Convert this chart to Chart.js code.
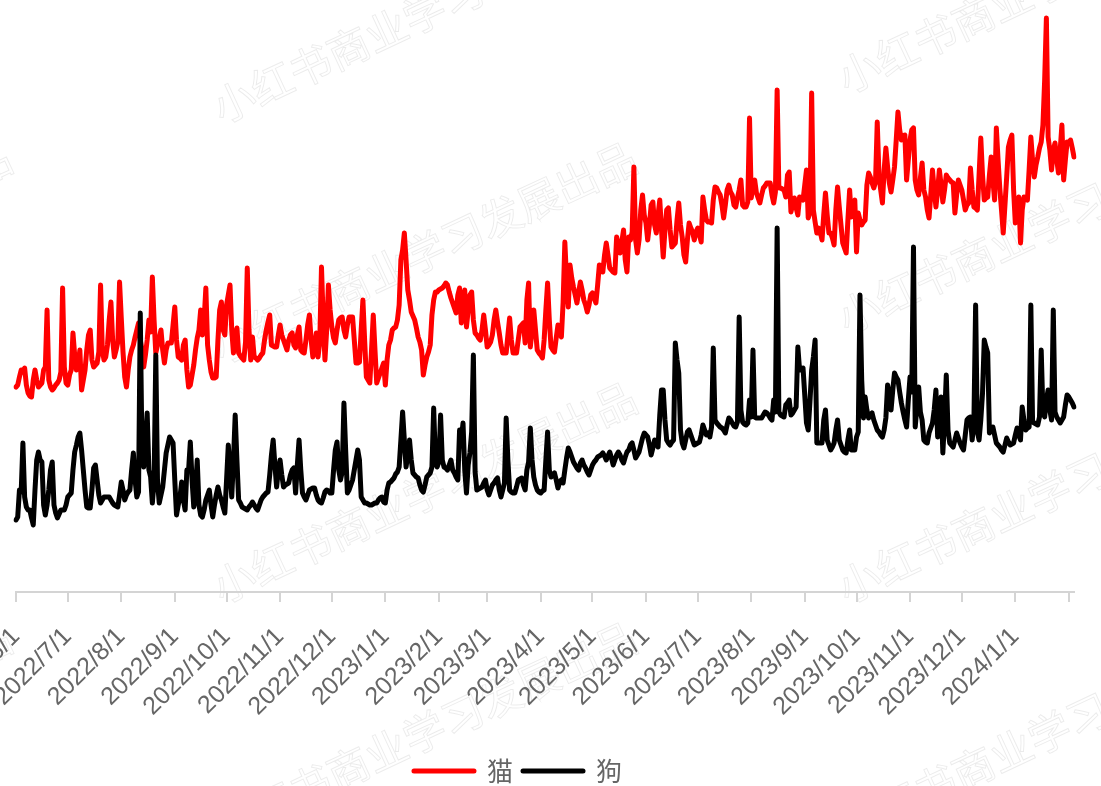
<!DOCTYPE html>
<html lang="zh">
<head>
<meta charset="utf-8">
<title>猫 / 狗</title>
<script src="https://cdn.jsdelivr.net/npm/chart.js@4.4.1/dist/chart.umd.min.js"></script>
<style>
  html, body { margin: 0; padding: 0; background: #fff; }
  #wrap { width: 1101px; height: 786px; }
</style>
</head>
<body>
<div id="wrap"><canvas id="grafico" width="1101" height="786"></canvas></div>
<script>
// daily values, starting 2022/6/1
const seriesNames = ['猫', '狗'];
const startDay = [2022, 6, 1];

const cat = [
  205,207,215,222,220,224,207,199,196,195,
  212,222,212,205,207,209,222,225,282,212,
  205,202,204,207,209,212,220,304,225,209,
  207,217,222,259,237,222,227,242,202,212,
  222,242,257,262,232,225,227,229,240,307,
  242,232,235,247,272,290,252,235,242,250,
  310,274,240,215,205,222,235,242,247,255,
  262,269,252,242,225,237,252,272,260,315,
  272,239,247,254,262,242,229,242,249,249,
  249,267,285,252,235,234,232,247,252,222,
  205,207,217,227,242,254,262,282,257,272,
  304,247,232,220,214,214,215,252,282,290,
  262,257,287,297,307,262,239,257,264,239,
  236,234,232,250,324,262,232,255,235,234,
  232,234,237,239,252,262,270,277,247,246,
  245,245,257,267,257,252,247,242,252,257,
  259,247,244,257,265,242,240,239,252,267,
  277,252,235,247,259,235,250,325,272,232,
  262,307,282,265,254,249,262,272,274,275,
  262,255,267,275,275,275,252,229,229,230,
  262,292,252,215,212,209,242,277,242,209,
  214,219,224,229,207,232,247,252,262,264,
  265,272,287,332,342,359,332,302,292,280,
  276,272,264,255,250,242,217,227,235,240,
  247,277,292,300,300,302,303,304,306,309,
  307,300,294,289,284,279,297,304,269,287,
  302,265,282,297,300,272,259,257,254,252,
  262,277,262,245,247,250,257,272,282,270,
  259,247,239,239,239,257,274,252,239,239,
  239,252,265,267,269,249,292,309,245,262,
  282,262,242,239,237,234,252,282,309,272,
  245,242,240,254,267,259,255,290,350,312,
  285,327,314,305,297,289,300,310,302,292,
  287,280,287,297,299,294,289,307,327,324,
  320,337,349,337,324,322,320,319,355,347,
  339,350,362,332,320,355,352,360,425,352,
  339,352,382,397,377,369,352,367,387,390,
  367,359,377,392,362,335,362,382,384,362,
  345,347,349,372,389,367,355,337,330,352,
  369,364,360,352,360,364,357,350,395,382,
  372,370,370,369,392,405,404,400,397,387,
  374,387,402,407,400,397,387,385,394,402,
  412,387,385,385,390,474,394,407,412,399,
  394,389,397,404,406,409,409,409,397,389,
  400,502,404,404,403,402,395,417,420,380,
  387,394,384,377,395,394,392,407,422,374,
  380,499,382,370,359,364,360,352,377,399,
  377,359,359,354,347,382,405,385,367,349,
  344,339,372,402,375,387,392,340,379,372,
  367,370,372,407,419,415,409,404,410,470,
  417,402,389,422,444,425,409,400,412,425,
  452,480,462,452,456,457,412,432,452,462,
  464,412,402,397,414,429,402,395,382,374,
  397,422,402,385,402,422,407,390,402,417,
  414,412,410,409,379,397,412,407,402,392,
  382,387,389,424,402,385,384,382,417,454,
  417,392,394,395,417,435,412,392,464,432,
  404,382,359,387,415,445,452,457,402,369,
  382,395,349,382,395,394,392,422,455,432,
  415,427,435,444,450,467,512,574,455,442,
  422,442,449,432,419,442,467,412,432,450,
  449,452,444,435
];

const dog = [
  72,75,102,100,149,95,85,82,82,74,
  67,102,132,140,132,130,87,77,87,102,
  122,130,87,79,74,78,82,82,82,87,
  95,97,99,122,140,147,155,159,142,122,
  102,85,84,84,102,124,127,112,97,89,
  92,95,95,95,95,92,89,87,86,85,
  97,110,102,92,97,100,102,122,139,112,
  95,100,279,140,125,152,179,122,115,89,
  110,237,110,89,97,105,122,139,147,155,
  152,149,112,77,87,95,110,92,82,122,
  122,150,112,85,102,132,87,77,75,82,
  92,97,102,87,75,87,97,105,97,92,
  85,79,112,147,122,95,132,177,132,92,
  89,85,84,83,82,85,87,90,87,84,
  82,87,92,95,97,99,100,117,137,152,
  127,105,122,132,117,105,107,108,109,117,
  122,124,99,127,152,122,99,95,92,97,
  102,103,104,104,97,92,90,89,94,100,
  102,101,99,99,122,142,150,122,112,120,
  189,142,99,102,107,112,122,132,142,132,
  95,92,89,89,88,87,87,88,89,89,
  92,94,95,90,89,102,109,110,112,114,
  118,120,125,152,180,152,125,137,152,132,
  119,117,115,114,107,102,100,107,115,117,
  119,125,184,132,125,130,177,132,125,124,
  122,127,132,122,119,115,112,162,152,169,
  122,99,127,139,160,237,120,102,103,104,
  105,109,112,102,97,102,107,109,112,114,
  102,95,102,109,174,132,102,100,99,99,
  105,112,113,114,107,102,122,130,164,132,
  115,107,102,100,99,101,102,132,160,122,
  115,117,119,112,104,110,112,109,122,134,
  144,140,135,130,127,124,122,129,132,127,
  124,120,117,122,127,130,132,135,136,137,
  139,136,132,136,140,134,127,132,137,140,
  137,132,129,135,140,142,147,149,142,134,
  137,140,147,154,159,157,155,147,137,144,
  152,149,145,177,202,202,172,152,149,147,
  150,152,249,232,219,162,149,144,152,160,
  162,157,152,147,148,149,150,157,167,162,
  157,159,155,165,244,172,169,167,165,164,
  162,159,167,174,172,169,166,165,170,275,
  182,170,168,167,169,192,175,242,175,174,
  174,174,174,177,180,179,177,174,172,192,
  180,364,180,177,176,175,187,189,192,177,
  179,182,185,245,222,223,224,197,169,162,
  190,222,235,252,149,149,149,149,172,182,
  152,147,142,145,149,162,172,152,147,142,
  140,139,152,162,142,142,142,155,160,297,
  212,174,195,182,174,177,179,172,167,162,
  160,157,155,162,174,207,197,182,202,219,
  215,212,200,189,180,172,165,192,215,200,
  345,165,185,205,180,172,152,150,149,159,
  164,169,182,202,155,177,195,139,172,217,
  162,149,147,145,152,159,154,149,145,142,
  157,172,174,175,152,170,287,160,152,172,
  199,252,245,239,159,162,165,157,149,147,
  145,142,140,147,154,150,147,148,149,157,
  164,157,152,185,172,162,164,165,287,170,
  169,168,167,175,242,180,175,192,202,182,
  172,282,180,175,172,169,172,175,187,197,
  195,192,189,185
];

const days = cat.map((_, i) => {
  const d = new Date(startDay[0], startDay[1] - 1, startDay[2] + i);
  return `${d.getFullYear()}/${d.getMonth() + 1}/${d.getDate()}`;
});

const markText = '小红书商业学习发展出品';
const markSpots = [[215, 110], [840, 80], [-410, 350], [215, 350], [840, 320], [215, 590], [840, 590], [-410, 830], [215, 830], [840, 830]];

const watermark = {
  id: 'watermark',
  beforeDraw(chart) {
    const ctx = chart.ctx;
    ctx.save();
    ctx.font = '42px "Noto Sans CJK SC", sans-serif';
    ctx.strokeStyle = 'rgba(0,0,0,0.08)';
    ctx.lineWidth = 1;
    markSpots.forEach(([x, y]) => {
      ctx.save();
      ctx.translate(x, y);
      ctx.rotate(-25 * Math.PI / 180);
      ctx.strokeText(markText, 0, 0);
      ctx.restore();
    });
    ctx.restore();
  }
};

// legend sits a bit left of center and low in the reference
const legendSpot = {
  id: 'legendSpot',
  afterLayout(chart) {
    const lg = chart.legend;
    if (!lg) return;
    const dx = (1036 - lg.left - lg.right) / 2;
    const dy = 748 - lg.top;
    lg.left += dx; lg.right += dx;
    lg.top += dy; lg.bottom += dy;
  }
};

const axisGray = '#d4d4d4';
const labelFont = '"Liberation Sans", Arial, "Noto Sans CJK SC", sans-serif';

new Chart(document.getElementById('grafico').getContext('2d'), {
  type: 'line',
  data: {
    labels: days,
    datasets: [
      { label: seriesNames[0], data: cat, borderColor: '#ff0000', backgroundColor: '#ff0000', order: 1 },
      { label: seriesNames[1], data: dog, borderColor: '#000000', backgroundColor: '#000000', order: 0 }
    ]
  },
  options: {
    responsive: false,
    animation: false,
    layout: { autoPadding: false, padding: { top: 12, left: 16, right: 27, bottom: 0 } },
    elements: {
      point: { radius: 0, hoverRadius: 0 },
      line: { borderWidth: 5, tension: 0, borderJoinStyle: 'round', borderCapStyle: 'round' }
    },
    scales: {
      x: {
        type: 'category',
        offset: false,
        border: { display: true, color: axisGray, width: 2 },
        grid: { drawOnChartArea: false, drawTicks: true, tickLength: 10, color: axisGray, tickColor: axisGray, lineWidth: 2, tickWidth: 2 },
        ticks: {
          autoSkip: false,
          minRotation: 45,
          maxRotation: 45,
          padding: 20,
          color: '#666',
          font: { size: 25, family: labelFont },
          callback: function (value, index, ticks) {
            return index === ticks.length - 1 ? '' : this.getLabelForValue(value);
          }
        },
        afterBuildTicks: (scale) => {
          scale.ticks = scale.ticks.filter(t => days[t.value].split('/')[2] === '1');
        },
        afterFit: (scale) => {
          scale.height = 148;
          scale.paddingLeft = 0;
          scale.paddingRight = 0;
        }
      },
      y: { display: false, min: 0, max: 580 }
    },
    plugins: {
      legend: {
        position: 'bottom',
        labels: {
          usePointStyle: true,
          pointStyle: 'line',
          pointStyleWidth: 60,
          padding: 10,
          color: '#666',
          font: { size: 26, family: '"Noto Sans CJK SC", "Liberation Sans", sans-serif' },
          sort: (a, b) => a.datasetIndex - b.datasetIndex,
          generateLabels: (chart) => Chart.defaults.plugins.legend.labels.generateLabels(chart)
            .map(item => ({ ...item, lineWidth: 5, lineCap: 'round' }))
        }
      },
      tooltip: { enabled: false }
    }
  },
  plugins: [watermark, legendSpot]
});
</script>
</body>
</html>
